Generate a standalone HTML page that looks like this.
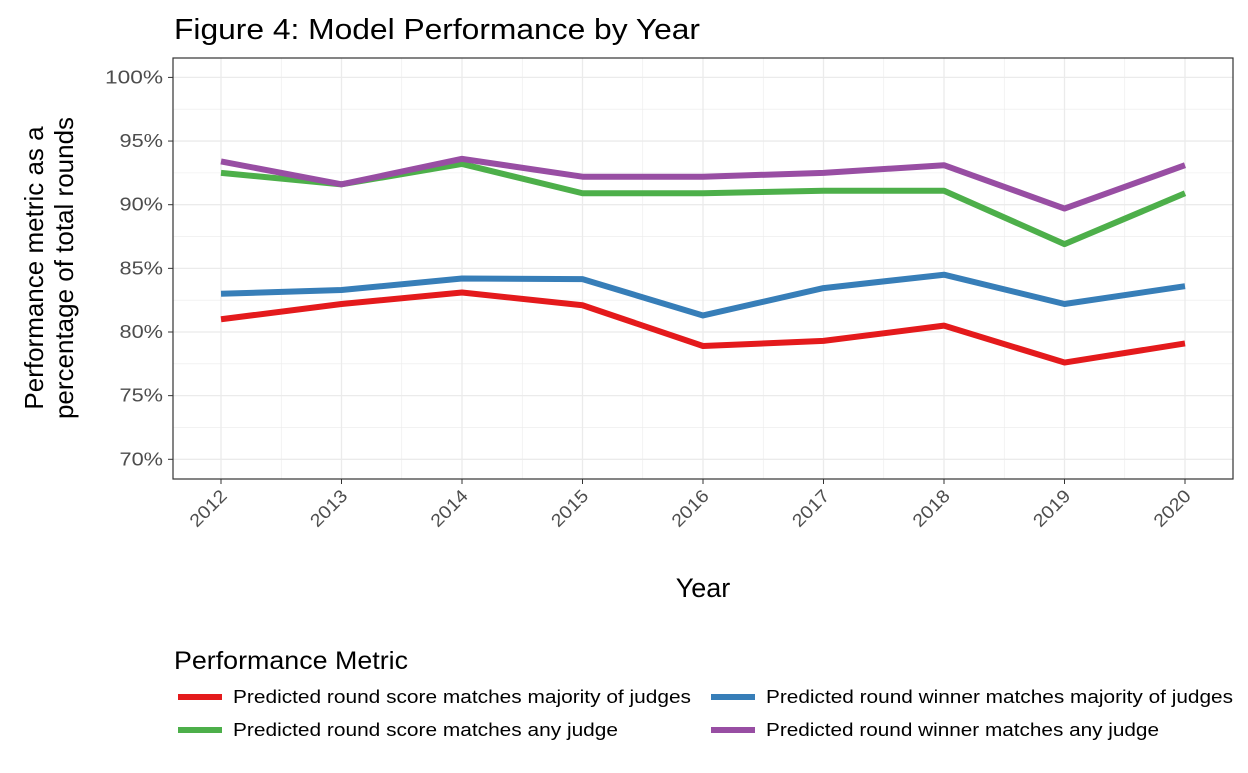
<!DOCTYPE html>
<html><head><meta charset="utf-8"><style>
body{margin:0;background:#fff;font-family:"Liberation Sans",Arial,sans-serif}
</style></head><body>
<svg id="chart" width="1248" height="768" xmlns="http://www.w3.org/2000/svg">
<rect width="1248" height="768" fill="#fff"/>
<text x="174" y="39" font-size="29" textLength="526" lengthAdjust="spacingAndGlyphs" fill="#000">Figure 4: Model Performance by Year</text>
<g id="grid"></g>
<g id="series"></g>
<rect x="173" y="58" width="1060" height="421" fill="none" stroke="#333" stroke-width="1.2"/>
<g id="axes"></g>
<text x="703" y="597" font-size="27" text-anchor="middle" fill="#000">Year</text>
<text transform="translate(47,268) rotate(-90)" font-size="26" text-anchor="middle" fill="#000"><tspan x="0" dy="-4">Performance metric as a</tspan><tspan x="0" dy="30">percentage of total rounds</tspan></text>
<text x="174" y="669" font-size="25" textLength="234" lengthAdjust="spacingAndGlyphs" fill="#000">Performance Metric</text>
<g id="legend"></g>
</svg>
<script>
const years=[2012,2013,2014,2015,2016,2017,2018,2019,2020];
const yTicks=[70,75,80,85,90,95,100];
const seriesNames=["Predicted round score matches majority of judges","Predicted round winner matches majority of judges","Predicted round score matches any judge","Predicted round winner matches any judge"];
const redVals=[81.0,82.2,83.1,82.1,78.9,79.3,80.5,77.6,79.1];
const blueVals=[83.0,83.3,84.2,84.15,81.3,83.45,84.5,82.2,83.6];
const greenVals=[92.5,91.6,93.2,90.9,90.9,91.1,91.1,86.9,90.9];
const purpleVals=[93.4,91.6,93.6,92.2,92.2,92.5,93.1,89.7,93.1];
const colors=["#e41a1c","#377eb8","#4daf4a","#984ea3"];
const NS="http://www.w3.org/2000/svg";
const x=v=>221+(v-2012)*120.5;
const y=v=>332-(v-80)*12.73;
function mk(t,a,p){const e=document.createElementNS(NS,t);for(const k in a)e.setAttribute(k,a[k]);p.appendChild(e);return e;}
const grid=document.getElementById('grid'),axes=document.getElementById('axes');
mk('rect',{x:173,y:58,width:1060,height:421,fill:'#fff'},grid);
for(let v=67.5;v<=102.5;v+=2.5){const yy=y(v);if(yy<58||yy>479)continue;const l=mk('line',{x1:173,x2:1233,y1:yy,y2:yy,stroke:'#ebebeb','stroke-width':v%5===0?1.3:0.6},grid);}
for(let v=2011.5;v<=2020.5;v+=0.5){const xx=x(v);if(xx<173||xx>1233)continue;const l=mk('line',{y1:58,y2:479,x1:xx,x2:xx,stroke:'#ebebeb','stroke-width':v%1===0?1.3:0.6},grid);}
yTicks.forEach(v=>{mk('line',{x1:168,x2:173,y1:y(v),y2:y(v),stroke:'#333'},axes);const s=v+'%';const t=mk('text',{x:163,y:y(v)+6,'font-size':18,'text-anchor':'end',fill:'#4d4d4d',textLength:s.length*14.5,lengthAdjust:'spacingAndGlyphs'},axes);t.textContent=s;});
years.forEach(v=>{mk('line',{x1:x(v),x2:x(v),y1:479,y2:484,stroke:'#333'},axes);const t=mk('text',{transform:`translate(${x(v)+7},${497}) rotate(-45)`,'font-size':18,'text-anchor':'end',fill:'#4d4d4d',textLength:44,lengthAdjust:'spacingAndGlyphs'},axes);t.textContent=v;});
const all=[redVals,blueVals,greenVals,purpleVals];
const sg=document.getElementById('series');
const names=['red-score-majority','blue-winner-majority','green-score-any','purple-winner-any'];
all.forEach((vals,i)=>{const p=mk('polyline',{points:vals.map((v,j)=>x(years[j])+','+y(v)).join(' '),fill:'none',stroke:colors[i],'stroke-width':6,'stroke-linejoin':'round'},sg);});
const lg=document.getElementById('legend');
const pos=[[178,697],[711,697],[178,730],[711,730]];
const lens=[458,467,385,393];
seriesNames.forEach((n,i)=>{const [lx,ly]=pos[i];const g=mk('g',{},lg);mk('line',{x1:lx,x2:lx+44,y1:ly,y2:ly,stroke:colors[i],'stroke-width':6},g);const t=mk('text',{x:lx+55,y:ly+6,'font-size':18,fill:'#000',textLength:lens[i],lengthAdjust:'spacingAndGlyphs'},g);t.textContent=n;});
</script>
</body></html>
